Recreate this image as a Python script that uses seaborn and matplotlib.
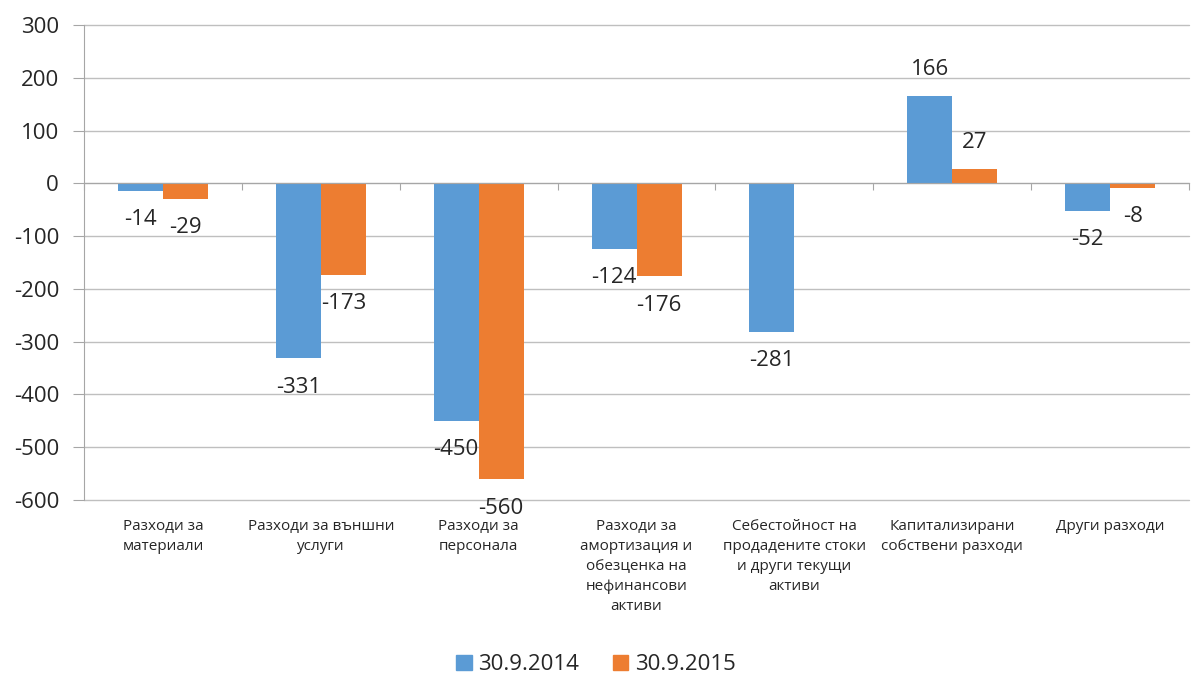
import numpy as np
import pandas as pd
import matplotlib
matplotlib.use("Agg")
import matplotlib.pyplot as plt
import matplotlib.transforms as mtransforms
from matplotlib.patches import Patch
import seaborn as sns

# data
categories = ["Разходи за\nматериали",
              "Разходи за външни\nуслуги",
              "Разходи за\nперсонала",
              "Разходи за\nамортизация и\nобезценка на\nнефинансови\nактиви",
              "Себестойност на\nпродадените стоки\nи други текущи\nактиви",
              "Капитализирани\nсобствени разходи",
              "Други разходи"]
series = ["30.9.2014", "30.9.2015"]
values_2014 = [-14, -331, -450, -124, -281, 166, -52]
values_2015 = [-29, -173, -560, -176, np.nan, 27, -8]
colors = ["#5B9BD5", "#ED7D31"]
y_ticks = list(range(-600, 301, 100))

df = pd.DataFrame({
    "cat": categories * 2,
    "series": [series[0]] * len(categories) + [series[1]] * len(categories),
    "value": values_2014 + values_2015,
})

sns.set_style("white")
plt.rcParams["font.family"] = ["Open Sans", "DejaVu Sans"]

fig = plt.figure(figsize=(11.92, 6.77), dpi=100)
ax = fig.add_axes([0.0705, 0.2615, 0.927, 0.7015])

sns.barplot(data=df, x="cat", y="value", hue="series", palette=colors,
            width=0.57, errorbar=None, saturation=1, linewidth=0, ax=ax, zorder=3)
ax.get_legend().remove()

ax.set_ylim(-600, 300)
ax.set_xlim(-0.5, len(categories) - 0.5)
ax.set_yticks(y_ticks)
ax.set_yticklabels([str(t) for t in y_ticks], fontsize=16)
ax.yaxis.grid(True, color="#BFBFBF", linewidth=1, zorder=0)
for gl in ax.get_ygridlines():
    gl.set_clip_on(False)
ax.set_xlabel("")
ax.set_ylabel("")

for s in ["top", "right"]:
    ax.spines[s].set_visible(False)
ax.spines["left"].set_color("#A6A6A6")
ax.spines["bottom"].set_position(("data", 0))
ax.spines["bottom"].set_color("#A6A6A6")
ax.spines["bottom"].set_zorder(4)
ax.tick_params(axis="y", length=8, color="#A6A6A6", pad=10, left=True)

# category ticks between groups on the zero line
ax.set_xticks(np.arange(len(categories) + 1) - 0.5)
ax.set_xticklabels([])
ax.tick_params(axis="x", length=5, color="#A6A6A6", bottom=True, direction="out")

# category names below the plot area
trans = mtransforms.blended_transform_factory(ax.transData, ax.transAxes)
for i, c in enumerate(categories):
    ax.text(i, -0.04, c, transform=trans, ha="center", va="top",
            fontsize=11, linespacing=1.45)

# data labels
for cont in ax.containers:
    for bar in cont:
        h = bar.get_height()
        if np.isnan(h):
            continue
        x = bar.get_x() + bar.get_width() / 2
        off = 19 if h >= 0 else -21
        ax.annotate(f"{h:.0f}", (x, h), xytext=(0, off), textcoords="offset points",
                    ha="center", va="center", fontsize=16, annotation_clip=False)

handles = [Patch(color=c, label=s) for c, s in zip(colors, series)]
fig.legend(handles=handles, loc="center", bbox_to_anchor=(0.5, 0.018),
           ncol=2, frameon=False, fontsize=16, handlelength=0.7,
           handleheight=0.7, handletextpad=0.3, columnspacing=1.5)

fig.savefig("out.png", dpi=100)
